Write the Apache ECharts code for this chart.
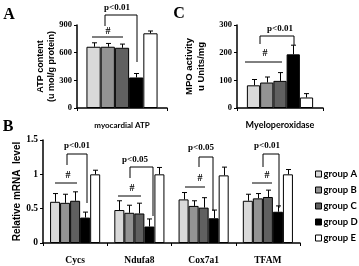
<!DOCTYPE html>
<html>
<head>
<meta charset="utf-8">
<script src="https://cdn.jsdelivr.net/npm/echarts@6/dist/echarts.min.js"></script>
<style>
  html, body { margin: 0; padding: 0; background: #fff; }
  #chart { width: 359px; height: 266px; }
</style>
</head>
<body>
<div id="chart"></div>
<script>
// groups shared by every panel
const groups = ['group A', 'group B', 'group C', 'group D', 'group E']
const groupColors = ['#d9d9d9', '#939393', '#606060', '#000000', '#ffffff']

// panel A - ATP content
const atpCategories = ['myocardial ATP']
const atpValues = [664, 664, 653, 331, 810]
const atpErrors = [43, 36, 40, 43, 25]
const atpTicks = [0, 300, 600, 900]

// panel C - MPO activity
const mpoCategories = ['Myeloperoxidase']
const mpoValues = [82, 92, 98, 194, 38]
const mpoErrors = [21, 20, 30, 33, 14]
const mpoTicks = [0, 100, 200, 300]

// panel B - relative mRNA level, one array per group
const geneCategories = ['Cycs', 'Ndufa8', 'Cox7a1', 'TFAM']
const geneA = [0.60, 0.48, 0.635, 0.615]
const geneB = [0.585, 0.44, 0.54, 0.65]
const geneC = [0.615, 0.43, 0.515, 0.67]
const geneD = [0.37, 0.24, 0.36, 0.455]
const geneE = [1.0, 1.0, 0.985, 1.0]
const geneErrA = [0.12, 0.135, 0.10, 0.095]
const geneErrB = [0.125, 0.11, 0.075, 0.07]
const geneErrC = [0.13, 0.15, 0.145, 0.10]
const geneErrD = [0.08, 0.11, 0.12, 0.085]
const geneErrE = [0.06, 0.10, 0.12, 0.07]
const geneTicks = [0, 0.5, 1, 1.5]

const serif = '"Liberation Serif", "DejaVu Serif", serif'
const sans = '"Liberation Sans", Arial, sans-serif'
const lato = 'Lato, "Liberation Sans", sans-serif'

let myChart = echarts.init(document.getElementById('chart'), null, { renderer: 'canvas' })

function barSeries(name, idx, gridIdx, data, gap) {
  return {
    name: name,
    type: 'bar',
    xAxisIndex: gridIdx,
    yAxisIndex: gridIdx,
    data: data,
    barGap: 0,
    barCategoryGap: gap,
    itemStyle: { color: groupColors[idx], borderColor: '#000', borderWidth: 1 },
    emphasis: { disabled: true },
    animation: false
  }
}

// error bars drawn upward from each bar, placed like the bars are
function errorSeries(gridIdx, rows, gapRatio) {
  return {
    type: 'custom',
    xAxisIndex: gridIdx,
    yAxisIndex: gridIdx,
    data: rows,
    z: 5,
    silent: true,
    animation: false,
    renderItem: function (params, api) {
      const cat = api.value(0)
      const val = api.value(1)
      const err = api.value(2)
      const g = api.value(3)
      const band = api.size([1, 0])[0]
      const total = band * (1 - gapRatio)
      const bw = total / groups.length
      const center = api.coord([cat, 0])[0]
      const x = Math.round(center - total / 2 + (g + 0.5) * bw) + 0.5
      const top = api.coord([cat, val])[1]
      const hi = api.coord([cat, val + err])[1]
      const st = { stroke: '#000', lineWidth: 1 }
      return {
        type: 'group',
        children: [
          { type: 'line', shape: { x1: x, y1: top, x2: x, y2: hi }, style: st },
          { type: 'line', shape: { x1: x - 2.5, y1: hi, x2: x + 2.5, y2: hi }, style: st }
        ]
      }
    }
  }
}

function errRows(valueLists, errLists) {
  let rows = []
  for (let g = 0; g < valueLists.length; g++) {
    for (let c = 0; c < valueLists[g].length; c++) {
      rows.push([c, valueLists[g][c], errLists[g][c], g])
    }
  }
  return rows
}

function xAxisDef(gridIdx, cats, fontFamily, fontSize, margin) {
  return {
    type: 'category',
    gridIndex: gridIdx,
    data: cats,
    axisLine: { show: true, lineStyle: { color: '#000', width: 1.5 } },
    axisTick: { show: true, length: 3, lineStyle: { color: '#000', width: 1 } },
    axisLabel: { color: '#000', fontFamily: fontFamily, fontWeight: 'bold', fontSize: fontSize, margin: margin }
  }
}

function yAxisDef(gridIdx, ticks, name, nameGap, nameSize, labelSize) {
  return {
    type: 'value',
    gridIndex: gridIdx,
    min: ticks[0],
    max: ticks[ticks.length - 1],
    interval: ticks[1] - ticks[0],
    name: name,
    nameLocation: 'middle',
    nameRotate: 90,
    nameGap: nameGap,
    nameMoveOverlap: false,
    nameTextStyle: { color: '#000', fontFamily: sans, fontWeight: 'bold', fontSize: nameSize, lineHeight: nameSize + 2 },
    splitLine: { show: false },
    axisLine: { show: true, lineStyle: { color: '#000', width: 1.5 } },
    axisTick: { show: true, length: 3, lineStyle: { color: '#000', width: 1 } },
    axisLabel: { color: '#000', fontFamily: serif, fontWeight: 'bold', fontSize: labelSize, margin: 5 }
  }
}

const geneLists = [geneA, geneB, geneC, geneD, geneE]
const geneErrLists = [geneErrA, geneErrB, geneErrC, geneErrD, geneErrE]

let series = []
groups.forEach((name, i) => {
  series.push(barSeries(name, i, 0, [atpValues[i]], '21%'))
  series.push(barSeries(name, i, 1, [mpoValues[i]], '23%'))
  series.push(barSeries(name, i, 2, geneLists[i], '22%'))
})
series.push(errorSeries(0, groups.map((g, i) => [0, atpValues[i], atpErrors[i], i]), 0.21))
series.push(errorSeries(1, groups.map((g, i) => [0, mpoValues[i], mpoErrors[i], i]), 0.23))
series.push(errorSeries(2, errRows(geneLists, geneErrLists), 0.22))

// significance annotations: bracket + p text, and # over groups A-C
function bracket(x1, x2, y, leftEnd, rightEnd) {
  return {
    type: 'polyline',
    shape: { points: [[x1, leftEnd], [x1, y], [x2, y], [x2, rightEnd]] },
    style: { stroke: '#000', lineWidth: 1, fill: null }
  }
}
function hline(x1, x2, y) {
  return { type: 'line', shape: { x1: x1, y1: y, x2: x2, y2: y }, style: { stroke: '#000', lineWidth: 1 } }
}
function label(txt, x, y, size, font) {
  return {
    type: 'text', x: x, y: y,
    style: { text: txt, fill: '#000', font: 'bold ' + size + 'px ' + font, textAlign: 'center', textVerticalAlign: 'middle' }
  }
}

const graphics = [
  label('A', 9, 15, 16, serif),
  label('C', 179, 14, 16, serif),
  label('B', 8, 127, 16, serif),

  // panel A
  label('p<0.01', 117, 8, 9, serif),
  bracket(105, 137, 15, 26, 62),
  label('#', 108, 31, 10, serif),
  hline(92, 123, 37),

  // panel C
  label('p<0.01', 280, 29, 9, serif),
  bracket(260, 294, 36, 44, 45),
  label('#', 265, 53, 10, serif),
  hline(245, 282, 62),

  // panel B
  label('p<0.01', 77, 146, 9, serif),
  bracket(67, 87, 154, 165, 203),
  label('#', 68, 175, 10, serif),
  hline(55, 77, 183),

  label('p<0.05', 135, 160, 9, serif),
  bracket(130, 153, 167, 178, 216),
  label('#', 132, 188, 10, serif),
  hline(118, 141, 196),

  label('p<0.05', 201, 148, 9, serif),
  bracket(199, 213, 157, 167, 211),
  label('#', 200, 178, 10, serif),
  hline(185, 205, 187),

  label('p<0.01', 267, 146, 9, serif),
  bracket(263, 279, 154, 167, 208),
  label('#', 267, 175, 10, serif),
  hline(252, 272, 183)
]

myChart.setOption({
  animation: false,
  backgroundColor: '#fff',
  grid: [
    { left: 77, right: 192, top: 25, bottom: 158 },
    { left: 237, right: 36, top: 25, bottom: 158 },
    { left: 43, right: 59, top: 140, bottom: 23 }
  ],
  legend: {
    data: groups,
    orient: 'vertical',
    left: 310,
    top: 164,
    icon: 'rect',
    itemWidth: 6,
    itemHeight: 6,
    itemGap: 6,
    selectedMode: false,
    textStyle: { color: '#000', fontFamily: lato, fontWeight: 'bold', fontSize: 9.5, lineHeight: 10, padding: [0, 0, 0, -3] },
    itemStyle: { borderColor: '#000', borderWidth: 1 }
  },
  xAxis: [
    xAxisDef(0, atpCategories, lato, 8, 13),
    xAxisDef(1, mpoCategories, lato, 9, 13),
    xAxisDef(2, geneCategories, serif, 9.5, 13)
  ],
  yAxis: [
    yAxisDef(0, atpTicks, 'ATP content\n(u mol/g protein)', 20, 9, 8.5),
    yAxisDef(1, mpoTicks, 'MPO activity\nu Units/mg', 30, 9.5, 8.5),
    yAxisDef(2, geneTicks, 'Relative mRNA  level', 20, 10, 9.5)
  ],
  series: series,
  graphic: graphics
})
</script>
</body>
</html>
